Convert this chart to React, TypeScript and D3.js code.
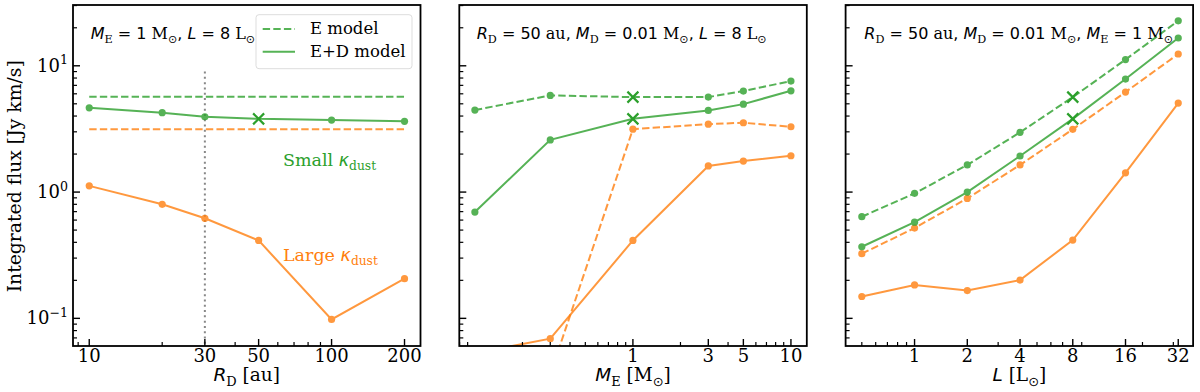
import React from "react";
import * as d3 from "d3";

// values (Jy km/s)
const rdVals = [10, 20, 30, 50, 100, 200];
const rdSmallE = [5.69, 5.69, 5.69, 5.69, 5.69, 5.69];
const rdSmallED = [4.65, 4.25, 3.95, 3.8, 3.72, 3.63];
const rdLargeE = [3.15, 3.15, 3.15, 3.15, 3.15, 3.15];
const rdLargeED = [1.12, 0.8, 0.62, 0.414, 0.098, 0.206];

const meVals = [0.1, 0.3, 1, 3, 5, 10];
const meSmallE = [4.46, 5.83, 5.65, 5.65, 6.31, 7.57];
const meSmallED = [0.695, 2.59, 3.8, 4.43, 4.97, 6.34];
const meLargeE = [0.01, 0.036, 3.15, 3.45, 3.54, 3.29];
const meLargeED = [0.053, 0.069, 0.414, 1.61, 1.76, 1.94];

const lumVals = [0.5, 1, 2, 4, 8, 16, 32];
const lumSmallE = [0.638, 0.977, 1.64, 2.97, 5.65, 11.2, 22.7];
const lumSmallED = [0.369, 0.578, 1.0, 1.93, 3.8, 7.85, 16.6];
const lumLargeE = [0.325, 0.519, 0.891, 1.64, 3.14, 6.19, 12.4];
const lumLargeED = [0.149, 0.184, 0.166, 0.201, 0.417, 1.42, 5.07];

const rdTicks = [10, 30, 50, 100, 200];
const meTicks = [1, 3, 5, 10];
const lumTicks = [1, 2, 4, 8, 16, 32];
const yTicks = [0.1, 1, 10];

const GREEN = "#2ca02c";
const ORANGE = "#ff7f0e";
const SANS = "DejaVu Sans";
const SERIF = "DejaVu Serif";

const top = 5;
const bottom = 346;
const panelW = 347.5;
const lefts = [73, 459.3, 845.6];

const y = d3.scaleLog().domain([0.0604, 30.3]).range([bottom, top]);

type Seg = { t: string; f?: "it" | "sans" | "serif"; sub?: boolean; sup?: boolean };

// mathtext-ish: italic sans variables, roman serif subscripts
function MText({ x, yy, size, segs, fill = "#000", anchor = "start" }: any) {
  let shift = 0;
  return (
    <text x={x} y={yy} fontSize={size} fill={fill} textAnchor={anchor}>
      {segs.map((s: Seg, i: number) => {
        const want = s.sub ? size * 0.25 : s.sup ? -size * 0.42 : 0;
        const dy = want - shift;
        shift = want;
        const fam = s.f === "serif" ? SERIF : SANS;
        return (
          <tspan
            key={i}
            dy={dy}
            fontFamily={fam}
            fontStyle={s.f === "it" ? "italic" : "normal"}
            fontSize={s.sub || s.sup ? size * 0.7 : size}
            style={{ whiteSpace: "pre" }}
          >
            {s.t}
          </tspan>
        );
      })}
    </text>
  );
}

function Series({ x, xs, ys, color, dashed, markers, cross }: any) {
  const line = d3
    .line<number>()
    .x((_, i) => x(xs[i]))
    .y((d) => y(d));
  return (
    <g opacity={0.8}>
      <path
        d={line(ys) || ""}
        fill="none"
        stroke={color}
        strokeWidth={2}
        strokeDasharray={dashed ? "7.4,3.2" : undefined}
      />
      {markers &&
        ys.map((v: number, i: number) =>
          i === cross ? null : <circle key={i} cx={x(xs[i])} cy={y(v)} r={3.6} fill={color} />
        )}
    </g>
  );
}

function Cross({ cx, cy }: any) {
  const s = 5.5;
  return (
    <path
      d={`M${cx - s},${cy - s}L${cx + s},${cy + s}M${cx - s},${cy + s}L${cx + s},${cy - s}`}
      stroke={GREEN}
      strokeWidth={2.2}
    />
  );
}

function minorTicks(domain: number[], majors: number[], withDecades: boolean) {
  const out: number[] = [];
  for (let k = -3; k <= 3; k++) {
    for (let m = 1; m <= 9; m++) {
      const v = +(m * Math.pow(10, k)).toPrecision(6);
      if (v < domain[0] || v > domain[1]) continue;
      if (m === 1 && !withDecades) continue;
      if (majors.some((t) => Math.abs(t - v) / v < 1e-6)) continue;
      out.push(v);
    }
  }
  return out;
}

function Panel({ idx, xDomain, xTicks, children, showY }: any) {
  const left = lefts[idx];
  const x = d3.scaleLog().domain(xDomain).range([left, left + panelW]);
  const xMinor = minorTicks(xDomain, xTicks, false);
  const yMinor = minorTicks(y.domain(), yTicks, true);
  const clipId = `clip${idx}`;
  return (
    <g>
      <clipPath id={clipId}>
        <rect x={left} y={top} width={panelW} height={bottom - top} />
      </clipPath>
      <g clipPath={`url(#${clipId})`}>{children(x)}</g>
      {xTicks.map((t: number) => (
        <g key={"xt" + t}>
          <line x1={x(t)} x2={x(t)} y1={bottom} y2={bottom - 7} stroke="#000" strokeWidth={1.4} />
          <text x={x(t)} y={362} textAnchor="middle" fontFamily={SERIF} fontSize={18}>
            {t}
          </text>
        </g>
      ))}
      {xMinor.map((t) => (
        <line key={"xm" + t} x1={x(t)} x2={x(t)} y1={bottom} y2={bottom - 4} stroke="#000" strokeWidth={1.2} />
      ))}
      {yTicks.map((t) => (
        <line key={"yt" + t} x1={left} x2={left + 7} y1={y(t)} y2={y(t)} stroke="#000" strokeWidth={1.4} />
      ))}
      {yMinor.map((t) => (
        <line key={"ym" + t} x1={left} x2={left + 4} y1={y(t)} y2={y(t)} stroke="#000" strokeWidth={1.2} />
      ))}
      {showY &&
        yTicks.map((t) => (
          <MText
            key={"yl" + t}
            x={left - 5}
            yy={y(t) + 6}
            size={18}
            anchor="end"
            segs={[
              { t: "10", f: "serif" },
              { t: String(Math.round(Math.log10(t))).replace("-", "\u2212"), f: "serif", sup: true },
            ]}
          />
        ))}
      <rect x={left} y={top} width={panelW} height={bottom - top} fill="none" stroke="#000" strokeWidth={1.8} />
    </g>
  );
}

function curves(x: any, xs: number[], se: number[], sed: number[], le: number[], led: number[], fid: number, eMarkers: boolean) {
  return (
    <g>
      <Series x={x} xs={xs} ys={se} color={GREEN} dashed markers={eMarkers} cross={fid} />
      <Series x={x} xs={xs} ys={le} color={ORANGE} dashed markers={eMarkers} />
      <Series x={x} xs={xs} ys={led} color={ORANGE} markers />
      <Series x={x} xs={xs} ys={sed} color={GREEN} markers cross={fid} />
      {eMarkers && <Cross cx={x(xs[fid])} cy={y(se[fid])} />}
      <Cross cx={x(xs[fid])} cy={y(sed[fid])} />
    </g>
  );
}

const sun: Seg = { t: "\u2299", f: "sans", sub: true };

export default function App() {
  return (
    <div style={{ position: "fixed", left: 0, top: 0 }}>
      <svg width={1200} height={392} style={{ display: "block", background: "#fff" }}>
        <Panel idx={0} xDomain={[8.57, 232.8]} xTicks={rdTicks} showY>
          {(x: any) => (
            <g>
              <line
                x1={x(30)}
                x2={x(30)}
                y1={y(9)}
                y2={bottom}
                stroke="#888"
                strokeWidth={2}
                strokeDasharray="2,3.3"
              />
              {curves(x, rdVals, rdSmallE, rdSmallED, rdLargeE, rdLargeED, 3, false)}
            </g>
          )}
        </Panel>
        <Panel idx={1} xDomain={[0.0797, 12.6]} xTicks={meTicks}>
          {(x: any) => curves(x, meVals, meSmallE, meSmallED, meLargeE, meLargeED, 2, true)}
        </Panel>
        <Panel idx={2} xDomain={[0.404, 38.9]} xTicks={lumTicks}>
          {(x: any) => curves(x, lumVals, lumSmallE, lumSmallED, lumLargeE, lumLargeED, 4, true)}
        </Panel>

        {/* panel titles */}
        <MText
          x={90.7}
          yy={39}
          size={16}
          segs={[
            { t: "M", f: "it" },
            { t: "E", f: "serif", sub: true },
            { t: " = 1 " },
            { t: "M", f: "serif" },
            sun,
            { t: ", " },
            { t: "L", f: "it" },
            { t: " = 8 " },
            { t: "L", f: "serif" },
            sun,
          ]}
        />
        <MText
          x={476.7}
          yy={39}
          size={16}
          segs={[
            { t: "R", f: "it" },
            { t: "D", f: "serif", sub: true },
            { t: " = 50 " },
            { t: "au", f: "serif" },
            { t: ", " },
            { t: "M", f: "it" },
            { t: "D", f: "serif", sub: true },
            { t: " = 0.01 " },
            { t: "M", f: "serif" },
            sun,
            { t: ", " },
            { t: "L", f: "it" },
            { t: " = 8 " },
            { t: "L", f: "serif" },
            sun,
          ]}
        />
        <MText
          x={864.3}
          yy={39}
          size={16}
          segs={[
            { t: "R", f: "it" },
            { t: "D", f: "serif", sub: true },
            { t: " = 50 " },
            { t: "au", f: "serif" },
            { t: ", " },
            { t: "M", f: "it" },
            { t: "D", f: "serif", sub: true },
            { t: " = 0.01 " },
            { t: "M", f: "serif" },
            sun,
            { t: ", " },
            { t: "M", f: "it" },
            { t: "E", f: "serif", sub: true },
            { t: " = 1 " },
            { t: "M", f: "serif" },
            sun,
          ]}
        />

        {/* legend */}
        <rect x={256} y={14.7} width={156} height={54} rx={3} fill="#fff" fillOpacity={0.8} stroke="#ddd" />
        <line x1={262.7} x2={295} y1={29} y2={29} stroke={GREEN} strokeOpacity={0.8} strokeWidth={2} strokeDasharray="7.4,3.2" />
        <line x1={262.7} x2={295} y1={51.7} y2={51.7} stroke={GREEN} strokeOpacity={0.8} strokeWidth={2} />
        <text x={310} y={34} fontFamily={SERIF} fontSize={16.5}>E model</text>
        <text x={310} y={57} fontFamily={SERIF} fontSize={16.5}>E+D model</text>

        {/* annotations */}
        <MText
          x={283}
          yy={166}
          size={17.5}
          fill={GREEN}
          segs={[{ t: "Small ", f: "serif" }, { t: "\u03ba", f: "it" }, { t: "dust", f: "serif", sub: true }]}
        />
        <MText
          x={283}
          yy={261}
          size={17.5}
          fill={ORANGE}
          segs={[{ t: "Large ", f: "serif" }, { t: "\u03ba", f: "it" }, { t: "dust", f: "serif", sub: true }]}
        />

        {/* axis labels */}
        <text
          transform="translate(21,176.3) rotate(-90)"
          textAnchor="middle"
          fontFamily={SERIF}
          fontSize={18.8}
        >
          Integrated flux [Jy km/s]
        </text>
        <MText
          x={lefts[0] + panelW / 2}
          yy={381}
          size={18.5}
          anchor="middle"
          segs={[{ t: "R", f: "it" }, { t: "D", f: "serif", sub: true }, { t: " [au]", f: "serif" }]}
        />
        <MText
          x={lefts[1] + panelW / 2}
          yy={381}
          size={18.5}
          anchor="middle"
          segs={[
            { t: "M", f: "it" },
            { t: "E", f: "serif", sub: true },
            { t: " [M", f: "serif" },
            sun,
            { t: "]", f: "serif" },
          ]}
        />
        <MText
          x={lefts[2] + panelW / 2}
          yy={381}
          size={18.5}
          anchor="middle"
          segs={[{ t: "L", f: "it" }, { t: " [L", f: "serif" }, sun, { t: "]", f: "serif" }]}
        />
      </svg>
    </div>
  );
}
